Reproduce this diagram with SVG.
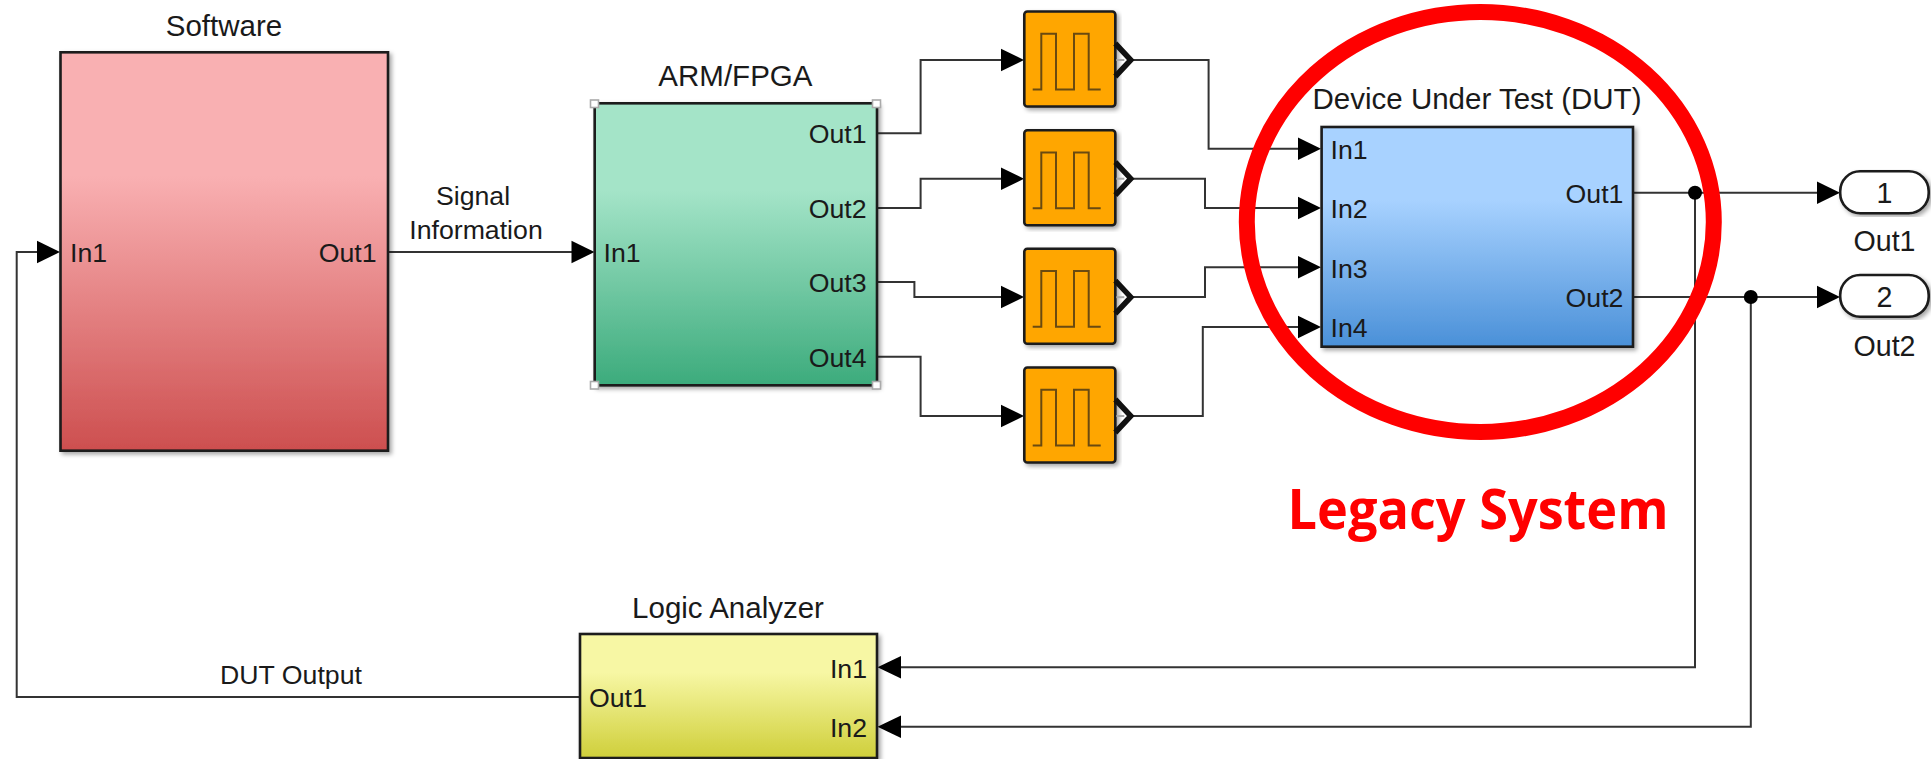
<svg xmlns="http://www.w3.org/2000/svg" width="1931" height="759" viewBox="0 0 1931 759">
<style>
.t{font-family:"Liberation Sans",Arial,sans-serif;fill:#1a1a1a}
.p{font-size:26.7px}
.h{font-size:29.5px;text-anchor:middle}
.pe{font-size:26.7px;text-anchor:end}
.pm{font-size:26.7px;text-anchor:middle}
.o{font-size:28.6px;text-anchor:middle}
.b{stroke:#1a1a1a;stroke-width:2.6;filter:url(#sh)}
.c{fill:none;stroke:#333;stroke-width:2}
.w{fill:none;stroke:#6a4a10;stroke-width:2}
.v{fill:none;stroke:#111;stroke-width:5.5}
.g{fill:#fff;stroke:#aaa;stroke-width:1.6}
</style>
<defs>
<filter id="sh" x="-5%" y="-5%" width="112%" height="112%"><feDropShadow dx="2.5" dy="2.5" stdDeviation="2" flood-color="#000" flood-opacity=".35"/></filter>
<linearGradient id="gr" x1="0" y1="0" x2="0" y2="1"><stop offset="0" stop-color="#f9b0b2"/><stop offset=".31" stop-color="#f9b0b2"/><stop offset="1" stop-color="#cd4f4f"/></linearGradient>
<linearGradient id="gg" x1="0" y1="0" x2="0" y2="1"><stop offset="0" stop-color="#a4e4c8"/><stop offset=".31" stop-color="#a4e4c8"/><stop offset="1" stop-color="#3cab7c"/></linearGradient>
<linearGradient id="gb" x1="0" y1="0" x2="0" y2="1"><stop offset="0" stop-color="#a8d2ff"/><stop offset=".33" stop-color="#a8d2ff"/><stop offset="1" stop-color="#4a90d8"/></linearGradient>
<linearGradient id="gy" x1="0" y1="0" x2="0" y2="1"><stop offset="0" stop-color="#f7f7a4"/><stop offset=".31" stop-color="#f7f7a4"/><stop offset="1" stop-color="#cfcf3a"/></linearGradient>
<polygon id="ar" points="-23,-11.3 0,0 -23,11.3" fill="#000"/>
<g id="pulse">
<rect class="b" x="0" y="0" width="91" height="95" rx="3" fill="#ffa600"/>
<polyline class="w" points="8.4,78 17,78 17,22.3 31.7,22.3 31.7,78 49.7,78 49.7,22.3 64.4,22.3 64.4,78 76.4,78"/>
<path d="M92,48.5H100" stroke="#aaa" stroke-width="2"/>
<polyline class="v" points="91,32 106.5,48.5 91,65"/>
</g>
</defs>
<g id="connectors">
<path class="c" d="M388,252H575"/>
<path class="c" d="M580,697H16.7V252H40"/>
<path class="c" d="M877,133.3H920.6V60H1004"/>
<path class="c" d="M877,208H920.6V178.7H1004"/>
<path class="c" d="M877,282H914.4V297H1004"/>
<path class="c" d="M877,356.7H920.6V416H1004"/>
<path class="c" d="M1130,60H1208.6V148.7H1300"/>
<path class="c" d="M1130,178.7H1205V208H1300"/>
<path class="c" d="M1130,297H1205V267.3H1300"/>
<path class="c" d="M1130,416H1202.8V327H1300"/>
<path class="c" d="M1633,192.7H1820"/>
<path class="c" d="M1633,297H1820"/>
<path class="c" d="M1695,192.7V667.3H898"/>
<path class="c" d="M1750.8,297V726.7H898"/>
<circle cx="1695" cy="192.7" r="7" fill="#000"/>
<circle cx="1750.8" cy="297" r="7" fill="#000"/>
<use href="#ar" x="60" y="252"/>
<use href="#ar" x="594.5" y="252"/>
<use href="#ar" x="1024" y="60"/>
<use href="#ar" x="1024" y="178.7"/>
<use href="#ar" x="1024" y="297"/>
<use href="#ar" x="1024" y="416"/>
<use href="#ar" x="1321" y="148.7"/>
<use href="#ar" x="1321" y="208"/>
<use href="#ar" x="1321" y="267.3"/>
<use href="#ar" x="1321" y="327"/>
<use href="#ar" x="1840" y="192.7"/>
<use href="#ar" x="1840" y="297"/>
<polygon points="901,655.9 877.5,667.3 901,678.6" fill="#000"/>
<polygon points="901,715.4 877.5,726.7 901,738" fill="#000"/>
</g>
<g id="software">
<rect class="b" x="60.5" y="52.3" width="327.5" height="398.4" fill="url(#gr)"/>
<text class="t h" x="224" y="36">Software</text>
<text class="t p" x="70" y="262">In1</text>
<text class="t pe" x="376.5" y="262">Out1</text>
</g>
<g id="signal-label">
<text class="t pm" x="473" y="204.5">Signal</text>
<text class="t pm" x="476" y="238.5">Information</text>
</g>
<g id="arm-fpga">
<rect class="b" x="594.7" y="103.3" width="282.3" height="282" fill="url(#gg)"/>
<rect class="g" x="590.5" y="100" width="8" height="7.5"/>
<rect class="g" x="872.5" y="100" width="8" height="7.5"/>
<rect class="g" x="590.5" y="381.5" width="8" height="7.5"/>
<rect class="g" x="872.5" y="381.5" width="8" height="7.5"/>
<text class="t h" x="735.4" y="86">ARM/FPGA</text>
<text class="t p" x="603.5" y="262">In1</text>
<text class="t pe" x="866.5" y="143.3">Out1</text>
<text class="t pe" x="866.5" y="218">Out2</text>
<text class="t pe" x="866.5" y="291.7">Out3</text>
<text class="t pe" x="866.5" y="366.7">Out4</text>
</g>
<g id="pulse1"><use href="#pulse" x="1024.3" y="11.5"/></g>
<g id="pulse2"><use href="#pulse" x="1024.3" y="130.2"/></g>
<g id="pulse3"><use href="#pulse" x="1024.3" y="248.7"/></g>
<g id="pulse4"><use href="#pulse" x="1024.3" y="367.5"/></g>
<g id="dut">
<rect class="b" x="1321.6" y="127" width="311.4" height="219.7" fill="url(#gb)"/>
<text class="t h" x="1477" y="109.3">Device Under Test (DUT)</text>
<text class="t p" x="1330.5" y="159.3">In1</text>
<text class="t p" x="1330.5" y="218.3">In2</text>
<text class="t p" x="1330.5" y="278">In3</text>
<text class="t p" x="1330.5" y="336.7">In4</text>
<text class="t pe" x="1623.4" y="202.7">Out1</text>
<text class="t pe" x="1623.4" y="306.7">Out2</text>
</g>
<g id="out1">
<rect class="b" x="1840.2" y="171.3" width="88.5" height="42" rx="20" fill="#fff"/>
<text class="t o" x="1884.5" y="202.7">1</text>
<text class="t o" x="1884.5" y="251">Out1</text>
</g>
<g id="out2">
<rect class="b" x="1840.2" y="275" width="88.5" height="41.7" rx="20" fill="#fff"/>
<text class="t o" x="1884.5" y="306.7">2</text>
<text class="t o" x="1884.5" y="356">Out2</text>
</g>
<g id="logic-analyzer">
<rect class="b" x="580" y="634" width="297" height="124" fill="url(#gy)"/>
<text class="t h" x="728" y="618">Logic Analyzer</text>
<text class="t p" x="589" y="707.3">Out1</text>
<text class="t pe" x="867" y="678">In1</text>
<text class="t pe" x="867" y="737.3">In2</text>
</g>
<g id="dut-output-label"><text class="t pm" x="291" y="684">DUT Output</text></g>
<g id="legacy">
<ellipse cx="1480.3" cy="222" rx="233.5" ry="210" fill="none" stroke="#f00" stroke-width="16"/>
<text x="1287.5" y="528.5" font-family="'Open Sans','Noto Sans',sans-serif" font-weight="700" font-size="55" fill="#f00" textLength="381" lengthAdjust="spacingAndGlyphs">Legacy System</text>
</g>
</svg>
